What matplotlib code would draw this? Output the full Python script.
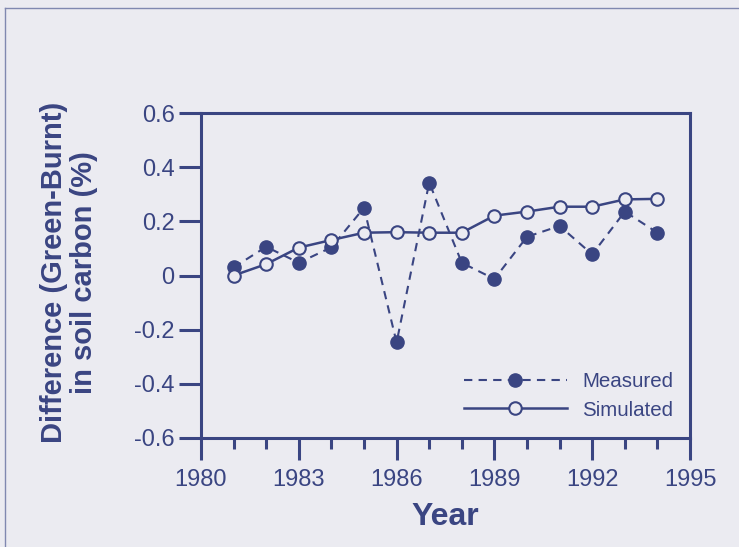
import matplotlib
matplotlib.use("Agg")
import matplotlib.pyplot as plt
from matplotlib.ticker import MultipleLocator

years = [1981, 1982, 1983, 1984, 1985, 1986, 1987, 1988, 1989, 1990, 1991, 1992, 1993, 1994]
measured = [0.03, 0.106, 0.047, 0.104, 0.25, -0.247, 0.343, 0.047, -0.013, 0.143, 0.183, 0.078, 0.236, 0.158]
simulated = [0.0, 0.042, 0.103, 0.131, 0.158, 0.16, 0.158, 0.158, 0.221, 0.236, 0.254, 0.254, 0.281, 0.283]
xticks = [1980, 1983, 1986, 1989, 1992, 1995]
yticks = [-0.6, -0.4, -0.2, 0, 0.2, 0.4, 0.6]
ytick_labels = ["-0.6", "-0.4", "-0.2", "0", "0.2", "0.4", "0.6"]

NAVY = "#3a4582"
BG = "#ebebf1"

plt.rcParams['font.family'] = ['Liberation Sans', 'DejaVu Sans']

fig = plt.figure(figsize=(7.39, 5.47), dpi=100, facecolor=BG)
W, H = 739, 547
ax = fig.add_axes([201 / W, 1 - 438 / H, (690 - 201) / W, (438 - 113) / H])
ax.set_facecolor(BG)

# figure border lines (top and left)
fig.add_artist(plt.Line2D([5 / W, 1], [1 - 8 / H, 1 - 8 / H], color="#8088b0", lw=1, transform=fig.transFigure))
fig.add_artist(plt.Line2D([5 / W, 5 / W], [0, 1 - 8 / H], color="#8088b0", lw=1, transform=fig.transFigure))

ax.plot(years, measured, linestyle=(0, (4, 3)), color=NAVY, lw=1.5, marker='o',
        markersize=9.5, markerfacecolor=NAVY, markeredgecolor=NAVY, label="Measured")
ax.plot(years, simulated, linestyle='-', color=NAVY, lw=1.8, marker='o',
        markersize=9, markerfacecolor=BG, markeredgecolor=NAVY, markeredgewidth=1.5,
        label="Simulated")

ax.set_xlim(1980, 1995)
ax.set_ylim(-0.6, 0.6)
ax.set_xticks(xticks)
ax.set_xticklabels([str(x) for x in xticks])
ax.xaxis.set_minor_locator(MultipleLocator(1))
ax.set_yticks(yticks)
ax.set_yticklabels(ytick_labels)

for s in ax.spines.values():
    s.set_color(NAVY)
    s.set_linewidth(2.2)

ax.tick_params(axis='both', which='major', direction='out', length=16, width=2.2,
               color=NAVY, labelcolor=NAVY, labelsize=17)
ax.tick_params(axis='y', which='major', pad=3)
ax.tick_params(axis='x', which='major', pad=6)
ax.tick_params(axis='x', which='minor', direction='out', length=8, width=2.2, color=NAVY)

ax.set_xlabel("Year", fontsize=23, fontweight='bold', color=NAVY, labelpad=8)
ax.set_ylabel("Difference (Green-Burnt)\nin soil carbon (%)", fontsize=21,
              fontweight='bold', color=NAVY, linespacing=1.05, va='center', ha='center')
ax.yaxis.set_label_coords((69 - 201) / 489, 0.51)

leg = ax.legend(loc='lower right', bbox_to_anchor=(1.003, 0.0), frameon=False,
                fontsize=14.8, handlelength=5.0, labelspacing=0.45, handletextpad=0.75,
                labelcolor=NAVY)

fig.savefig("out.png", dpi=100, facecolor=BG)
